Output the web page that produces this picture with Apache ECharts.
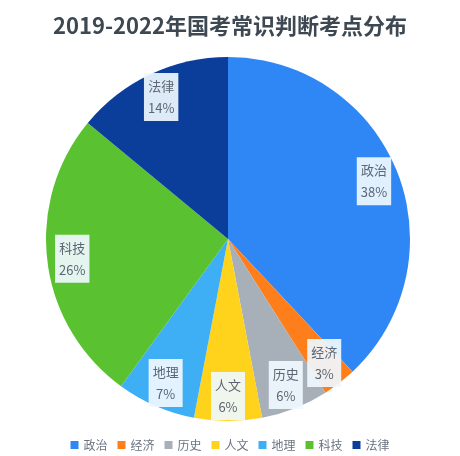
<!DOCTYPE html>
<html>
<head>
<meta charset="utf-8">
<script src="https://cdn.jsdelivr.net/npm/echarts@6/dist/echarts.min.js"></script>
<style>
html,body{margin:0;padding:0;background:#fff;}
#main{width:460px;height:456px;}
</style>
</head>
<body>
<div id="main"></div>
<script>
var categories = ['政治', '经济', '历史', '人文', '地理', '科技', '法律'];
var percents = [38, 3, 6, 6, 7, 26, 14];
var colors = ['#2e87f5', '#ff7e1c', '#a7afb9', '#ffd31c', '#3eaff4', '#5ac230', '#0b3e9b'];

var chart = echarts.init(document.getElementById('main'));

var pieData = categories.map(function(name, i){
    return {name: name, value: percents[i]};
});

var option = {
    color: colors,
    title: {
        text: '2019-2022年国考常识判断考点分布',
        left: 'center',
        top: 10,
        textStyle: {fontSize: 22, fontWeight: 'bold', color: '#3d4852', fontFamily: 'Noto Sans CJK SC'}
    },
    legend: {
        data: categories,
        bottom: 0,
        left: 'center',
        icon: 'rect',
        itemWidth: 8,
        itemHeight: 8,
        itemGap: 10,
        textStyle: {fontSize: 12, color: '#6a7480', fontFamily: 'Noto Sans CJK SC'}
    },
    series: [{
        type: 'pie',
        center: [228, 239],
        radius: [0, 182],
        startAngle: 90,
        data: pieData,
        label: {show: false},
        labelLine: {show: false},
        itemStyle: {borderWidth: 0}
    }, {
        type: 'pie',
        center: [228, 239],
        radius: [126, 182],
        startAngle: 90,
        silent: true,
        legendHoverLink: false,
        data: pieData,
        itemStyle: {color: 'rgba(0,0,0,0)'},
        label: {
            show: true,
            position: 'inside',
            formatter: '{b}\n{c}%',
            color: '#5b6672',
            fontSize: 13,
            lineHeight: 22,
            fontFamily: 'Noto Sans CJK SC',
            backgroundColor: 'rgba(240,248,255,0.92)',
            padding: [2, 4]
        },
        labelLine: {show: false}
    }]
};
chart.setOption(option);
</script>
</body>
</html>
